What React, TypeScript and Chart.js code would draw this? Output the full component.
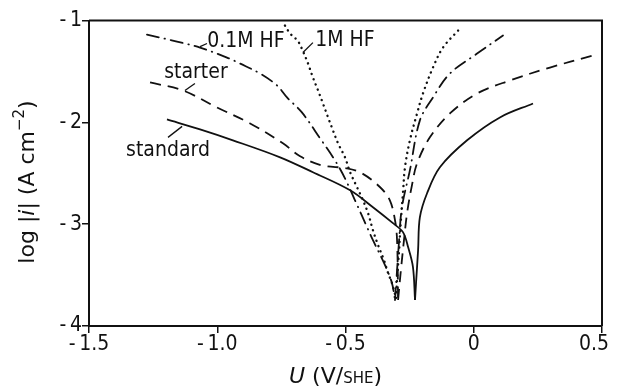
import React, { useEffect, useRef } from 'react';
import { Chart, registerables } from 'chart.js';

Chart.register(...registerables);

// Axis ticks
const xTickValues = [-1.5, -1.0, -0.5, 0, 0.5];
const xTickLabels = ['-\u20091.5', '-\u20091.0', '-\u20090.5', '0', '0.5'];
const yTickValues = [-4, -3, -2, -1];
const yTickLabels = ['-\u20094', '-\u20093', '-\u20092', '-\u20091'];

// Series: [U (V/SHE), log|i|]
const standardCathodic: [number, number][] = [
  [-1.196, -1.971], [-1.067, -2.069], [-0.939, -2.176], [-0.755, -2.343], [-0.627, -2.49],
  [-0.482, -2.667], [-0.393, -2.833], [-0.315, -2.99], [-0.276, -3.078], [-0.256, -3.225],
  [-0.237, -3.422], [-0.229, -3.745],
];
const standardAnodic: [number, number][] = [
  [-0.229, -3.745], [-0.225, -3.578], [-0.217, -3.255], [-0.21, -2.931], [-0.182, -2.696],
  [-0.132, -2.441], [-0.026, -2.176], [0.102, -1.951], [0.231, -1.814],
];
const starterCathodic: [number, number][] = [
  [-1.262, -1.608], [-1.134, -1.686], [-1.001, -1.853], [-0.872, -2.01], [-0.744, -2.206],
  [-0.677, -2.333], [-0.592, -2.422], [-0.494, -2.451], [-0.436, -2.5], [-0.365, -2.637],
  [-0.327, -2.765], [-0.307, -2.961], [-0.299, -3.157], [-0.295, -3.745],
];
const starterAnodic: [number, number][] = [
  [-0.295, -3.745], [-0.284, -3.451], [-0.272, -3.157], [-0.26, -2.892], [-0.241, -2.618],
  [-0.221, -2.402], [-0.171, -2.147], [-0.093, -1.912], [0.013, -1.716], [0.141, -1.588],
  [0.297, -1.461], [0.465, -1.343],
];
const hf01Cathodic: [number, number][] = [
  [-1.274, -1.137], [-1.157, -1.206], [-1.067, -1.265], [-0.962, -1.363], [-0.911, -1.422],
  [-0.833, -1.52], [-0.767, -1.637], [-0.728, -1.755], [-0.67, -1.902], [-0.599, -2.157],
  [-0.541, -2.373], [-0.502, -2.549], [-0.463, -2.765], [-0.416, -3.029], [-0.393, -3.157],
  [-0.346, -3.402], [-0.319, -3.578], [-0.307, -3.745],
];
const hf01Anodic: [number, number][] = [
  [-0.307, -3.745], [-0.299, -3.451], [-0.291, -3.157], [-0.28, -2.833], [-0.249, -2.471],
  [-0.21, -1.98], [-0.159, -1.755], [-0.093, -1.52], [0.013, -1.324], [0.114, -1.147],
];
const hf1Cathodic: [number, number][] = [
  [-0.736, -1.049], [-0.716, -1.127], [-0.686, -1.2], [-0.666, -1.3], [-0.646, -1.422],
  [-0.627, -1.559], [-0.607, -1.686], [-0.588, -1.814], [-0.568, -1.951], [-0.549, -2.078],
  [-0.529, -2.206], [-0.502, -2.343], [-0.482, -2.49], [-0.455, -2.637], [-0.432, -2.765],
  [-0.412, -2.892], [-0.393, -3.059], [-0.373, -3.206], [-0.35, -3.353], [-0.334, -3.48],
  [-0.319, -3.578], [-0.303, -3.725],
];
const hf1Anodic: [number, number][] = [
  [-0.303, -3.725], [-0.299, -3.549], [-0.291, -3.255], [-0.284, -2.961], [-0.276, -2.696],
  [-0.268, -2.441], [-0.249, -2.176], [-0.221, -1.912], [-0.198, -1.716], [-0.159, -1.461],
  [-0.12, -1.265], [-0.061, -1.098],
];

// Curve labels: text, label centre, leader start, leader end (data units)
const labelTexts = ['0.1M HF', '1M HF', 'starter', 'standard'];
const labelCentres: [number, number][] = [[-0.888, -1.206], [-0.502, -1.196], [-1.083, -1.51], [-1.192, -2.275]];
const leaderStarts: [number, number][] = [[-1.067, -1.255], [-0.666, -1.314], [-1.126, -1.686], [-1.192, -2.147]];
const leaderEnds: [number, number][] = [[-1.04, -1.225], [-0.627, -1.216], [-1.087, -1.618], [-1.137, -2.039]];

const FONT = "'DejaVu Sans Condensed', 'Liberation Sans Narrow', 'DejaVu Sans', sans-serif";
const WIDE = "'DejaVu Sans', sans-serif";
const INK = '#111';

const toPts = (a: [number, number][]) => a.map(([x, y]) => ({ x, y }));

type Seg = { t: string; f: string; dy?: number };

function drawRich(ctx: CanvasRenderingContext2D, segs: Seg[], cx: number, cy: number, rot: number) {
  ctx.save();
  ctx.translate(cx, cy);
  ctx.rotate(rot);
  ctx.textBaseline = 'middle';
  ctx.textAlign = 'left';
  let total = 0;
  for (const s of segs) { ctx.font = s.f; total += ctx.measureText(s.t).width; }
  let x = -total / 2;
  for (const s of segs) {
    ctx.font = s.f;
    ctx.fillText(s.t, x, s.dy || 0);
    x += ctx.measureText(s.t).width;
  }
  ctx.restore();
}

const framePlugin = {
  id: 'frameAndLabels',
  afterDraw(chart: any) {
    const { ctx, chartArea: a, scales, width } = chart;
    const xs = scales.x, ys = scales.y;
    ctx.save();
    ctx.strokeStyle = INK;
    ctx.fillStyle = INK;
    // top and right frame
    ctx.lineWidth = 2;
    ctx.beginPath();
    ctx.moveTo(a.left, a.top);
    ctx.lineTo(a.right, a.top);
    ctx.lineTo(a.right, a.bottom);
    ctx.stroke();
    // x tick labels (kept inside the visible page)
    ctx.font = `21px ${FONT}`;
    ctx.textAlign = 'center';
    ctx.textBaseline = 'alphabetic';
    xTickValues.forEach((v, i) => {
      const t = xTickLabels[i];
      const w = ctx.measureText(t).width;
      const px = Math.min(xs.getPixelForValue(v), width - 1 - w / 2);
      ctx.fillText(t, px, a.bottom + 24);
    });
    // labels with leaders
    ctx.lineWidth = 1.3;
    ctx.font = `21px ${FONT}`;
    ctx.textBaseline = 'middle';
    labelTexts.forEach((t, i) => {
      const [lx, ly] = labelCentres[i];
      ctx.fillText(t, xs.getPixelForValue(lx), ys.getPixelForValue(ly));
      const [sx, sy] = leaderStarts[i];
      const [ex, ey] = leaderEnds[i];
      ctx.beginPath();
      ctx.moveTo(xs.getPixelForValue(sx), ys.getPixelForValue(sy));
      ctx.lineTo(xs.getPixelForValue(ex), ys.getPixelForValue(ey));
      ctx.stroke();
    });
    // axis titles
    drawRich(ctx, [
      { t: 'U', f: `italic 22px ${WIDE}` },
      { t: ' (V/', f: `22px ${WIDE}` },
      { t: 'SHE', f: `15px ${WIDE}`, dy: 2 },
      { t: ')', f: `22px ${WIDE}` },
    ], (a.left + a.right) / 2 - 10, a.bottom + 51, 0);
    drawRich(ctx, [
      { t: 'log |', f: `22px ${WIDE}` },
      { t: 'i', f: `italic 22px ${WIDE}` },
      { t: '| (A cm', f: `22px ${WIDE}` },
      { t: '−2', f: `15px ${WIDE}`, dy: -8 },
      { t: ')', f: `22px ${WIDE}` },
    ], 20, 174, -Math.PI / 2);
    ctx.restore();
  },
};

export default function App() {
  const ref = useRef<HTMLCanvasElement | null>(null);
  useEffect(() => {
    if (!ref.current) return;
    const base = { pointRadius: 0, borderColor: INK, fill: false, tension: 0.35 };
    const solid = { ...base, borderWidth: 1.8, borderDash: [] as number[] };
    const dashed = { ...base, borderWidth: 1.8, borderDash: [11, 7] };
    const dashdot = { ...base, borderWidth: 1.8, borderDash: [12, 6, 0.5, 6], borderCapStyle: 'round' };
    const dotted = { ...base, borderWidth: 2.4, borderDash: [0.1, 5.5], borderCapStyle: 'round' };
    const chart = new Chart(ref.current, {
      type: 'line',
      data: {
        datasets: [
          { label: 'standard', data: toPts(standardCathodic), ...solid },
          { label: 'standard anodic', data: toPts(standardAnodic), ...solid },
          { label: 'starter', data: toPts(starterCathodic), ...dashed },
          { label: 'starter anodic', data: toPts(starterAnodic), ...dashed },
          { label: '0.1M HF', data: toPts(hf01Cathodic), ...dashdot },
          { label: '0.1M HF anodic', data: toPts(hf01Anodic), ...dashdot },
          { label: '1M HF', data: toPts(hf1Cathodic), ...dotted },
          { label: '1M HF anodic', data: toPts(hf1Anodic), ...dotted },
        ] as any,
      },
      options: {
        animation: false,
        responsive: true,
        maintainAspectRatio: false,
        layout: { padding: { left: 0, right: 8, top: 12, bottom: 0 }, autoPadding: false } as any,
        plugins: { legend: { display: false }, tooltip: { enabled: false } },
        scales: {
          x: {
            type: 'linear',
            min: -1.5,
            max: 0.5,
            afterFit: (s: any) => { s.height = 62; },
            afterBuildTicks: (s: any) => { s.ticks = xTickValues.map((v) => ({ value: v })); },
            ticks: { display: false },
            grid: { display: true, drawOnChartArea: false, drawTicks: true, tickLength: 7, color: INK, lineWidth: 1.5 },
            border: { display: true, color: INK, width: 2 },
          },
          y: {
            type: 'linear',
            min: -4,
            max: -1,
            afterFit: (s: any) => { s.width = 81; },
            afterBuildTicks: (s: any) => { s.ticks = yTickValues.map((v) => ({ value: v })); },
            ticks: {
              autoSkip: false,
              color: INK,
              padding: 0,
              font: { family: FONT, size: 21 },
              callback: (v: any) => yTickLabels[yTickValues.indexOf(Number(v))] ?? '',
            },
            grid: { display: true, drawOnChartArea: false, drawTicks: true, tickLength: 7, color: INK, lineWidth: 1.5 },
            border: { display: true, color: INK, width: 2 },
          },
        },
      } as any,
      plugins: [framePlugin],
    });
    return () => chart.destroy();
  }, []);
  return (
    <div style={{ height: 380, position: 'relative' }}>
      <canvas ref={ref} />
    </div>
  );
}
